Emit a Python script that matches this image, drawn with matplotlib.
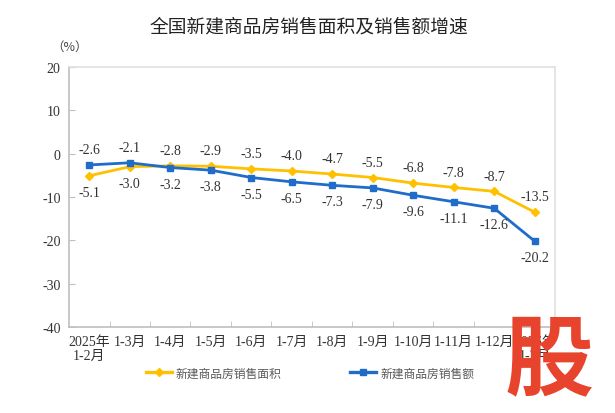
import matplotlib.pyplot as plt
from matplotlib.lines import Line2D

plt.rcParams['font.family'] = ['Liberation Serif', 'Noto Sans CJK SC', 'DejaVu Sans']
plt.rcParams['axes.unicode_minus'] = False

# 数据
months = ['2025年\n1-2月', '1-3月', '1-4月', '1-5月', '1-6月', '1-7月', '1-8月',
          '1-9月', '1-10月', '1-11月', '1-12月', '2026年\n1-2月']
area = [-5.1, -3.0, -2.8, -2.9, -3.5, -4.0, -4.7, -5.5, -6.8, -7.8, -8.7, -13.5]
sales = [-2.6, -2.1, -3.2, -3.8, -5.5, -6.5, -7.3, -7.9, -9.6, -11.1, -12.6, -20.2]
y_ticks = [20, 10, 0, -10, -20, -30, -40]

yellow = '#FFC000'
blue = '#1F6DC9'
x = list(range(len(months)))

fig = plt.figure(figsize=(6.15, 4.14), dpi=100)
ax = fig.add_axes([0.1122, 0.2077, 0.7902, 0.628])

ax.plot(x, area, color=yellow, lw=2.0, marker='D', ms=4.5, zorder=3)
ax.plot(x, sales, color=blue, lw=2.0, marker='s', ms=4.5, zorder=3)

# 数据标签：高的在上，低的在下
for i in x:
    hi, lo = max(area[i], sales[i]), min(area[i], sales[i])
    ax.annotate(f'{hi:.1f}', (i, hi), xytext=(0, 11), textcoords='offset points',
                ha='center', va='center', fontsize=10, color='#333333')
    ax.annotate(f'{lo:.1f}', (i, lo), xytext=(0, -12), textcoords='offset points',
                ha='center', va='center', fontsize=10, color='#333333')

ax.set_xlim(-0.5, len(months) - 0.5)
ax.set_ylim(-40, 20)
ax.set_yticks(y_ticks)
ax.set_yticklabels([str(v) for v in y_ticks])
ax.set_xticks(x)
ax.set_xticklabels(months, linespacing=1.1)
ax.set_xticks([i + 0.5 for i in x[:-1]], minor=True)

ax.tick_params(axis='x', which='major', length=0, pad=6, labelsize=10, labelcolor='#333333')
ax.tick_params(axis='x', which='minor', direction='in', length=4, color='#BFBFBF')
ax.tick_params(axis='y', direction='in', length=4, color='#BFBFBF', pad=6,
               labelsize=10, labelcolor='#333333')

for s in ['left', 'bottom']:
    ax.spines[s].set_color('#BFBFBF')
    ax.spines[s].set_linewidth(1.2)
for s in ['top', 'right']:
    ax.spines[s].set_color('#E0E0E0')
    ax.spines[s].set_linewidth(1.2)

fig.text(309/615, 1 - 27/414, '全国新建商品房销售面积及销售额增速', ha='center', va='center',
         fontsize=13.5, family=['Noto Sans CJK SC'], color='#222222')
fig.text(69.5/615, 1 - 47/414, '（%）', ha='center', va='center', fontsize=9,
         family=['Noto Sans CJK SC'], color='#444444')

handles = [Line2D([], [], color=yellow, lw=2.4, marker='D', ms=4),
           Line2D([], [], color=blue, lw=2.4, marker='s', ms=4)]
leg = fig.legend(handles, ['新建商品房销售面积', '新建商品房销售额'], ncol=2,
                 loc='center', bbox_to_anchor=(310/615, 1 - 374/414), frameon=False,
                 prop={'family': ['Noto Sans CJK SC'], 'size': 8.5},
                 handlelength=2.2, handletextpad=0.35, columnspacing=5.8)
for t in leg.get_texts():
    t.set_color('#595959')

# 水印
fig.text(549/615, 1 - 362/414, '股', ha='center', va='center', fontsize=64,
         fontweight='bold', family=['Noto Sans CJK SC'], color='#E8432D', zorder=10)

fig.savefig('out.png', dpi=100)
